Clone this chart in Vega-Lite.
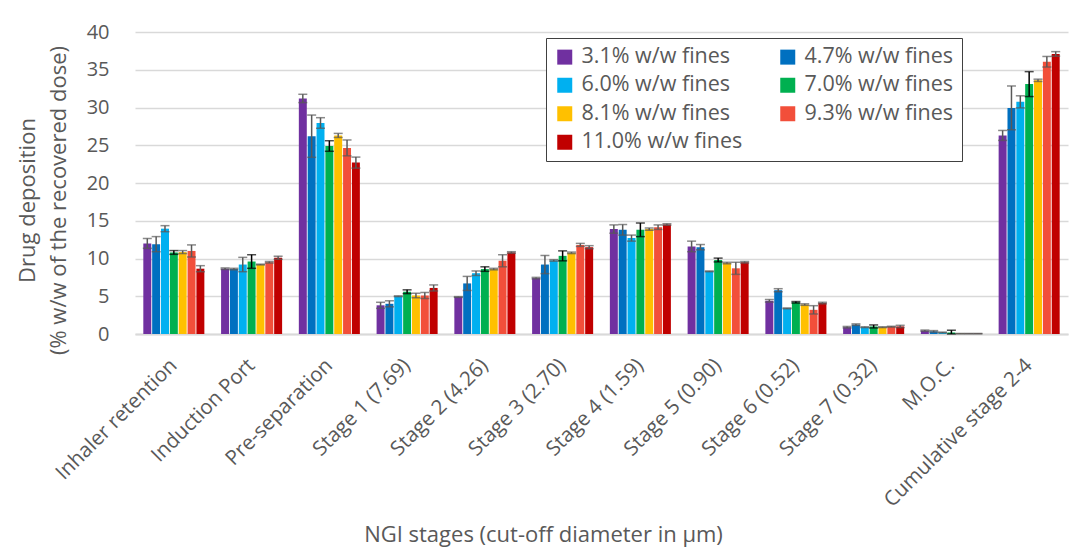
{
  "$schema": "https://vega.github.io/schema/vega-lite/v6.json",
  "width": 933,
  "height": 302,
  "autosize": {"type": "none"},
  "padding": {"left": 135, "top": 32, "right": 15, "bottom": 214},
  "background": "white",
  "config": {
    "font": "Open Sans",
    "view": {"stroke": null},
    "axis": {"titleFontWeight": "normal", "titleColor": "#595959", "labelColor": "#595959"},
    "axisY": {
      "labelFontSize": 20, "labelPadding": 26, "ticks": false, "domain": false,
      "grid": true, "gridColor": "#D9D9D9", "gridWidth": 1.5, "tickCount": 8,
      "titleFontSize": 22, "titleLineHeight": 31,
      "titleX": -118, "titleY": 168, "titleAlign": "center", "titleBaseline": "top", "titleAngle": -90
    }
  },
  "data": {
    "values": [
      {"s": "Inhaler retention", "f": "3.1% w/w fines", "v": 12.0, "lo": 11.35, "hi": 12.65},
      {"s": "Inhaler retention", "f": "4.7% w/w fines", "v": 11.9, "lo": 10.9, "hi": 12.9},
      {"s": "Inhaler retention", "f": "6.0% w/w fines", "v": 13.95, "lo": 13.55, "hi": 14.35},
      {"s": "Inhaler retention", "f": "7.0% w/w fines", "v": 10.8, "lo": 10.55, "hi": 11.05},
      {"s": "Inhaler retention", "f": "8.1% w/w fines", "v": 10.85, "lo": 10.65, "hi": 11.05},
      {"s": "Inhaler retention", "f": "9.3% w/w fines", "v": 11.0, "lo": 10.2, "hi": 11.8},
      {"s": "Inhaler retention", "f": "11.0% w/w fines", "v": 8.65, "lo": 8.25, "hi": 9.05},
      {"s": "Induction Port", "f": "3.1% w/w fines", "v": 8.65, "lo": 8.55, "hi": 8.75},
      {"s": "Induction Port", "f": "4.7% w/w fines", "v": 8.6, "lo": 8.5, "hi": 8.7},
      {"s": "Induction Port", "f": "6.0% w/w fines", "v": 9.2, "lo": 8.25, "hi": 10.15},
      {"s": "Induction Port", "f": "7.0% w/w fines", "v": 9.6, "lo": 8.7, "hi": 10.5},
      {"s": "Induction Port", "f": "8.1% w/w fines", "v": 9.2, "lo": 9.15, "hi": 9.25},
      {"s": "Induction Port", "f": "9.3% w/w fines", "v": 9.5, "lo": 9.4, "hi": 9.6},
      {"s": "Induction Port", "f": "11.0% w/w fines", "v": 10.1, "lo": 9.9, "hi": 10.3},
      {"s": "Pre-separation", "f": "3.1% w/w fines", "v": 31.2, "lo": 30.65, "hi": 31.75},
      {"s": "Pre-separation", "f": "4.7% w/w fines", "v": 26.2, "lo": 23.4, "hi": 29.0},
      {"s": "Pre-separation", "f": "6.0% w/w fines", "v": 27.95, "lo": 27.25, "hi": 28.65},
      {"s": "Pre-separation", "f": "7.0% w/w fines", "v": 24.9, "lo": 24.2, "hi": 25.6},
      {"s": "Pre-separation", "f": "8.1% w/w fines", "v": 26.3, "lo": 26.03, "hi": 26.57},
      {"s": "Pre-separation", "f": "9.3% w/w fines", "v": 24.65, "lo": 23.6, "hi": 25.7},
      {"s": "Pre-separation", "f": "11.0% w/w fines", "v": 22.7, "lo": 21.97, "hi": 23.43},
      {"s": "Stage 1 (7.69)", "f": "3.1% w/w fines", "v": 3.8, "lo": 3.4, "hi": 4.2},
      {"s": "Stage 1 (7.69)", "f": "4.7% w/w fines", "v": 4.0, "lo": 3.6, "hi": 4.4},
      {"s": "Stage 1 (7.69)", "f": "6.0% w/w fines", "v": 5.0, "lo": 4.95, "hi": 5.05},
      {"s": "Stage 1 (7.69)", "f": "7.0% w/w fines", "v": 5.6, "lo": 5.35, "hi": 5.85},
      {"s": "Stage 1 (7.69)", "f": "8.1% w/w fines", "v": 5.1, "lo": 4.8, "hi": 5.4},
      {"s": "Stage 1 (7.69)", "f": "9.3% w/w fines", "v": 5.1, "lo": 4.7, "hi": 5.5},
      {"s": "Stage 1 (7.69)", "f": "11.0% w/w fines", "v": 6.1, "lo": 5.7, "hi": 6.5},
      {"s": "Stage 2 (4.26)", "f": "3.1% w/w fines", "v": 4.9, "lo": 4.85, "hi": 4.95},
      {"s": "Stage 2 (4.26)", "f": "4.7% w/w fines", "v": 6.7, "lo": 5.77, "hi": 7.63},
      {"s": "Stage 2 (4.26)", "f": "6.0% w/w fines", "v": 8.05, "lo": 7.75, "hi": 8.35},
      {"s": "Stage 2 (4.26)", "f": "7.0% w/w fines", "v": 8.6, "lo": 8.3, "hi": 8.9},
      {"s": "Stage 2 (4.26)", "f": "8.1% w/w fines", "v": 8.6, "lo": 8.5, "hi": 8.7},
      {"s": "Stage 2 (4.26)", "f": "9.3% w/w fines", "v": 9.7, "lo": 8.9, "hi": 10.5},
      {"s": "Stage 2 (4.26)", "f": "11.0% w/w fines", "v": 10.8, "lo": 10.7, "hi": 10.9},
      {"s": "Stage 3 (2.70)", "f": "3.1% w/w fines", "v": 7.4, "lo": 7.3, "hi": 7.5},
      {"s": "Stage 3 (2.70)", "f": "4.7% w/w fines", "v": 9.2, "lo": 8.0, "hi": 10.4},
      {"s": "Stage 3 (2.70)", "f": "6.0% w/w fines", "v": 9.75, "lo": 9.65, "hi": 9.85},
      {"s": "Stage 3 (2.70)", "f": "7.0% w/w fines", "v": 10.35, "lo": 9.69, "hi": 11.01},
      {"s": "Stage 3 (2.70)", "f": "8.1% w/w fines", "v": 10.75, "lo": 10.65, "hi": 10.85},
      {"s": "Stage 3 (2.70)", "f": "9.3% w/w fines", "v": 11.8, "lo": 11.6, "hi": 12.0},
      {"s": "Stage 3 (2.70)", "f": "11.0% w/w fines", "v": 11.5, "lo": 11.3, "hi": 11.7},
      {"s": "Stage 4 (1.59)", "f": "3.1% w/w fines", "v": 13.9, "lo": 13.35, "hi": 14.45},
      {"s": "Stage 4 (1.59)", "f": "4.7% w/w fines", "v": 13.8, "lo": 13.1, "hi": 14.5},
      {"s": "Stage 4 (1.59)", "f": "6.0% w/w fines", "v": 12.7, "lo": 12.3, "hi": 13.1},
      {"s": "Stage 4 (1.59)", "f": "7.0% w/w fines", "v": 13.8, "lo": 12.9, "hi": 14.7},
      {"s": "Stage 4 (1.59)", "f": "8.1% w/w fines", "v": 13.9, "lo": 13.75, "hi": 14.05},
      {"s": "Stage 4 (1.59)", "f": "9.3% w/w fines", "v": 14.15, "lo": 13.85, "hi": 14.45},
      {"s": "Stage 4 (1.59)", "f": "11.0% w/w fines", "v": 14.5, "lo": 14.4, "hi": 14.6},
      {"s": "Stage 5 (0.90)", "f": "3.1% w/w fines", "v": 11.6, "lo": 10.9, "hi": 12.3},
      {"s": "Stage 5 (0.90)", "f": "4.7% w/w fines", "v": 11.5, "lo": 11.15, "hi": 11.85},
      {"s": "Stage 5 (0.90)", "f": "6.0% w/w fines", "v": 8.3, "lo": 8.25, "hi": 8.35},
      {"s": "Stage 5 (0.90)", "f": "7.0% w/w fines", "v": 9.8, "lo": 9.55, "hi": 10.05},
      {"s": "Stage 5 (0.90)", "f": "8.1% w/w fines", "v": 9.4, "lo": 9.3, "hi": 9.5},
      {"s": "Stage 5 (0.90)", "f": "9.3% w/w fines", "v": 8.7, "lo": 7.9, "hi": 9.5},
      {"s": "Stage 5 (0.90)", "f": "11.0% w/w fines", "v": 9.5, "lo": 9.4, "hi": 9.6},
      {"s": "Stage 6 (0.52)", "f": "3.1% w/w fines", "v": 4.4, "lo": 4.23, "hi": 4.57},
      {"s": "Stage 6 (0.52)", "f": "4.7% w/w fines", "v": 5.8, "lo": 5.6, "hi": 6.0},
      {"s": "Stage 6 (0.52)", "f": "6.0% w/w fines", "v": 3.4, "lo": 3.35, "hi": 3.45},
      {"s": "Stage 6 (0.52)", "f": "7.0% w/w fines", "v": 4.2, "lo": 4.1, "hi": 4.3},
      {"s": "Stage 6 (0.52)", "f": "8.1% w/w fines", "v": 3.9, "lo": 3.8, "hi": 4.0},
      {"s": "Stage 6 (0.52)", "f": "9.3% w/w fines", "v": 3.2, "lo": 2.65, "hi": 3.75},
      {"s": "Stage 6 (0.52)", "f": "11.0% w/w fines", "v": 4.1, "lo": 4.0, "hi": 4.2},
      {"s": "Stage 7 (0.32)", "f": "3.1% w/w fines", "v": 0.9, "lo": 0.8, "hi": 1.0},
      {"s": "Stage 7 (0.32)", "f": "4.7% w/w fines", "v": 1.24, "lo": 1.14, "hi": 1.34},
      {"s": "Stage 7 (0.32)", "f": "6.0% w/w fines", "v": 0.9, "lo": 0.85, "hi": 0.95},
      {"s": "Stage 7 (0.32)", "f": "7.0% w/w fines", "v": 1.0, "lo": 0.8, "hi": 1.2},
      {"s": "Stage 7 (0.32)", "f": "8.1% w/w fines", "v": 0.9, "lo": 0.85, "hi": 0.95},
      {"s": "Stage 7 (0.32)", "f": "9.3% w/w fines", "v": 0.97, "lo": 0.92, "hi": 1.02},
      {"s": "Stage 7 (0.32)", "f": "11.0% w/w fines", "v": 1.0, "lo": 0.85, "hi": 1.15},
      {"s": "M.O.C.", "f": "3.1% w/w fines", "v": 0.44, "lo": 0.36, "hi": 0.52},
      {"s": "M.O.C.", "f": "4.7% w/w fines", "v": 0.35, "lo": 0.25, "hi": 0.45},
      {"s": "M.O.C.", "f": "6.0% w/w fines", "v": 0.2, "lo": 0.15, "hi": 0.25},
      {"s": "M.O.C.", "f": "7.0% w/w fines", "v": 0.2, "lo": 0.0, "hi": 0.5},
      {"s": "M.O.C.", "f": "8.1% w/w fines", "v": 0.05, "lo": 0.03, "hi": 0.07},
      {"s": "M.O.C.", "f": "9.3% w/w fines", "v": 0.05, "lo": 0.03, "hi": 0.07},
      {"s": "M.O.C.", "f": "11.0% w/w fines", "v": 0.05, "lo": 0.03, "hi": 0.07},
      {"s": "Cumulative stage 2-4", "f": "3.1% w/w fines", "v": 26.3, "lo": 25.64, "hi": 26.96},
      {"s": "Cumulative stage 2-4", "f": "4.7% w/w fines", "v": 29.95, "lo": 27.05, "hi": 32.85},
      {"s": "Cumulative stage 2-4", "f": "6.0% w/w fines", "v": 30.75, "lo": 29.95, "hi": 31.55},
      {"s": "Cumulative stage 2-4", "f": "7.0% w/w fines", "v": 33.1, "lo": 31.45, "hi": 34.75},
      {"s": "Cumulative stage 2-4", "f": "8.1% w/w fines", "v": 33.6, "lo": 33.45, "hi": 33.75},
      {"s": "Cumulative stage 2-4", "f": "9.3% w/w fines", "v": 36.06, "lo": 35.36, "hi": 36.76},
      {"s": "Cumulative stage 2-4", "f": "11.0% w/w fines", "v": 37.1, "lo": 36.8, "hi": 37.4}
    ]
  },
  "encoding": {
    "x": {
      "field": "s", "type": "nominal", "sort": null,
      "scale": {"paddingInner": 0.215, "paddingOuter": 0.107},
      "axis": {
        "labelAngle": -45, "labelAlign": "right", "labelBaseline": "middle",
        "labelFontSize": 20.5, "labelPadding": 28, "ticks": false,
        "domain": true, "domainColor": "#D9D9D9", "domainWidth": 2,
        "title": "NGI stages (cut-off diameter in µm)", "titleFontSize": 22,
        "titleX": 408, "titleY": 200, "titleAlign": "center", "titleBaseline": "middle",
        "labelLimit": 300
      }
    },
    "xOffset": {"field": "f", "type": "nominal", "sort": null, "scale": {"paddingInner": 0.1}}
  },
  "layer": [
    {
      "mark": {"type": "bar"},
      "encoding": {
        "y": {
          "field": "v", "type": "quantitative",
          "scale": {"domain": [0, 40]},
          "axis": {"title": ["Drug deposition", "(% w/w of the recovered dose)"]}
        },
        "color": {
          "field": "f", "type": "nominal", "sort": null,
          "scale": {"range": ["#7030A0", "#0070C0", "#00B0F0", "#00B050", "#FFC000", "#F24F3A", "#C00000"]},
          "legend": {
            "orient": "none", "legendX": 411, "legendY": 6, "columns": 2, "direction": "horizontal",
            "title": null, "labelFontSize": 21.5, "labelColor": "#595959",
            "symbolType": "square", "symbolSize": 225, "symbolStrokeWidth": 0, "symbolOpacity": 1,
            "padding": 8, "rowPadding": 5.5, "columnPadding": 34, "labelOffset": 6,
            "strokeColor": "#404040", "fillColor": "white", "labelLimit": 300
          }
        }
      }
    },
    {
      "mark": {"type": "rule", "strokeWidth": 1.5},
      "encoding": {
        "y": {"field": "lo", "type": "quantitative", "axis": {"title": ["Drug deposition", "(% w/w of the recovered dose)"]}},
        "y2": {"field": "hi"},
        "color": {"condition": {"test": "datum.f === '7.0% w/w fines'", "value": "#000000"}, "value": "#595959"}
      }
    },
    {
      "mark": {"type": "tick", "orient": "horizontal", "size": 9, "thickness": 1.5},
      "encoding": {
        "y": {"field": "lo", "type": "quantitative", "axis": {"title": ["Drug deposition", "(% w/w of the recovered dose)"]}},
        "color": {"condition": {"test": "datum.f === '7.0% w/w fines'", "value": "#000000"}, "value": "#595959"}
      }
    },
    {
      "mark": {"type": "tick", "orient": "horizontal", "size": 9, "thickness": 1.5},
      "encoding": {
        "y": {"field": "hi", "type": "quantitative", "axis": {"title": ["Drug deposition", "(% w/w of the recovered dose)"]}},
        "color": {"condition": {"test": "datum.f === '7.0% w/w fines'", "value": "#000000"}, "value": "#595959"}
      }
    }
  ]
}
